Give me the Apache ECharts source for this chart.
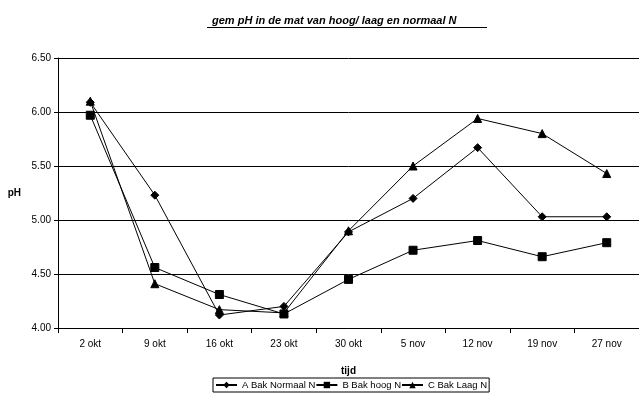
<!DOCTYPE html>
<html><head><meta charset="utf-8">
<script src="https://cdn.jsdelivr.net/npm/echarts@6/dist/echarts.min.js"></script>
<style>html,body{margin:0;padding:0;background:#fff}#c{width:639px;height:394px}</style>
</head><body><div id="c"></div>
<script>
var categories = ['2 okt','9 okt','16 okt','23 okt','30 okt','5 nov','12 nov','19 nov','27 nov'];
var seriesA = [6.09, 5.23, 4.12, 4.20, 4.89, 5.20, 5.67, 5.03, 5.03];
var seriesB = [5.97, 4.56, 4.31, 4.13, 4.45, 4.72, 4.81, 4.66, 4.79];
var seriesC = [6.10, 4.41, 4.17, 4.14, 4.90, 5.50, 5.94, 5.80, 5.43];
var names = ['A Bak Normaal N', 'B Bak hoog N', 'C Bak Laag N'];
var font = 'Liberation Sans, Arial, sans-serif';
var chart = echarts.init(document.getElementById('c'), null, {renderer:'canvas'});
function mk(name, data, sym, size){
  return {name:name, type:'line', data:data, symbol:sym, symbolSize:size,
    lineStyle:{color:'#000', width:1}, itemStyle:{color:'#000', borderColor:'#000'},
    emphasis:{disabled:true}, animation:false};
}
chart.setOption({
  animation:false,
  title:{text:'gem pH in de mat van hoog/ laag en normaal N', left:207, top:10,
    textStyle:{fontFamily:font, fontSize:11, fontWeight:'bold', fontStyle:'italic', color:'#000'}},
  graphic:[{type:'line', shape:{x1:207,y1:27.5,x2:487,y2:27.5}, style:{stroke:'#000', lineWidth:1}}],
  grid:{left:58, right:0, top:58, bottom:66, containLabel:false, outerBoundsMode:'none'},
  legend:{bottom:2, left:213, data:names, itemGap:0, itemWidth:21, itemHeight:8,
    borderColor:'#000', borderWidth:1, padding:[2,2], borderRadius:0,
    textStyle:{fontFamily:font, fontSize:9.5, color:'#000'}},
  xAxis:{type:'category', data:categories, boundaryGap:true, name:'tijd', nameLocation:'middle', nameGap:38,
    nameTextStyle:{fontFamily:font, fontSize:10, fontWeight:'bold', color:'#000'},
    axisLine:{lineStyle:{color:'#000'}}, axisTick:{show:true, length:5, lineStyle:{color:'#000'}},
    axisLabel:{fontFamily:font, fontSize:10, color:'#000', margin:11}},
  yAxis:{type:'value', min:4, max:6.5, interval:0.5, name:'pH', nameLocation:'middle', nameGap:37, nameRotate:0,
    nameTextStyle:{fontFamily:font, fontSize:10, fontWeight:'bold', color:'#000'},
    axisLine:{show:true, lineStyle:{color:'#000'}}, axisTick:{show:true, length:4, lineStyle:{color:'#000'}},
    axisLabel:{fontFamily:font, fontSize:10, color:'#000', margin:7, formatter:function(v){return v.toFixed(2);}},
    splitLine:{lineStyle:{color:'#000', width:1}}},
  series:[mk(names[0], seriesA, 'diamond', 8), mk(names[1], seriesB, 'rect', 8), mk(names[2], seriesC, 'triangle', 8)]
});
</script></body></html>
